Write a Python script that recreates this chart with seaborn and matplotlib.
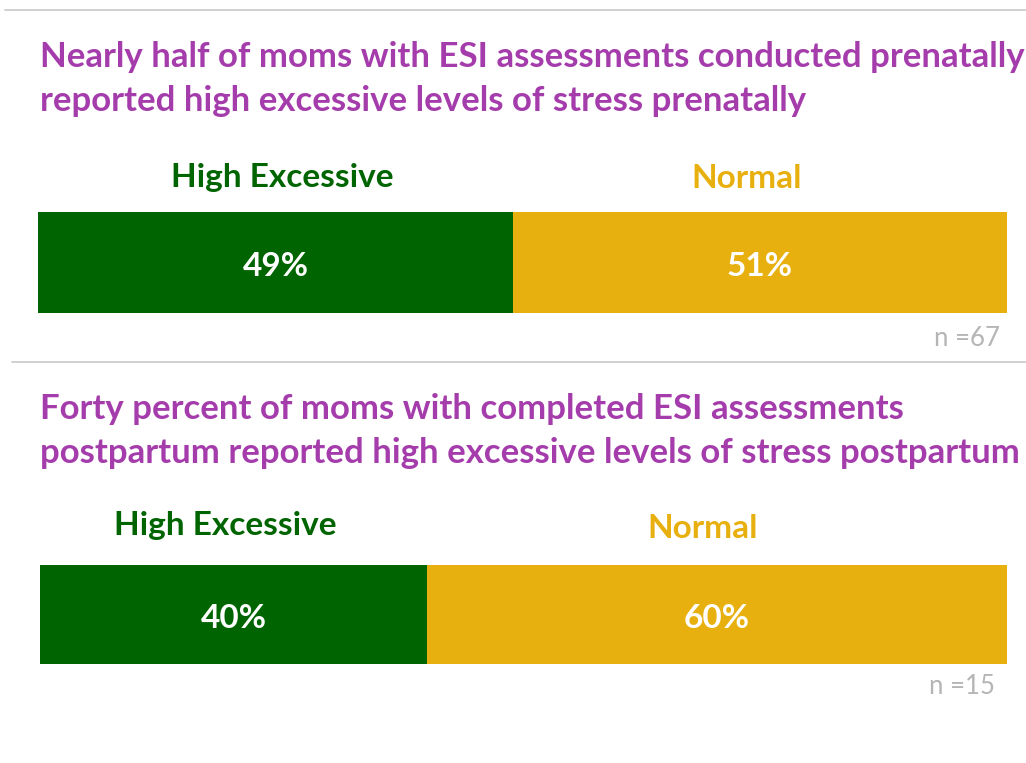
import matplotlib
matplotlib.use("Agg")
import matplotlib.pyplot as plt
import seaborn as sns
import pandas as pd

# ---- data ----
categories = ["High Excessive", "Normal"]
prenatal_values = [49, 51]
postpartum_values = [40, 60]
prenatal_n = 67
postpartum_n = 15
prenatal_title = [
    "Nearly half of moms with ESI assessments conducted prenatally",
    "reported high excessive levels of stress prenatally",
]
postpartum_title = [
    "Forty percent of moms with completed ESI assessments",
    "postpartum reported high excessive levels of stress postpartum",
]

GREEN = "#006400"
GOLD = "#E8B00E"
PURPLE = "#A53CAB"
GRAY = "#B5B5B5"

sns.set_theme(style="white")
plt.rcParams["font.family"] = ["Lato", "DejaVu Sans"]

W, H = 1026, 763
fig = plt.figure(figsize=(W / 100, H / 100), dpi=100)

def px_axes(x0, y0, x1, y1):
    return fig.add_axes([x0 / W, 1 - y1 / H, (x1 - x0) / W, (y1 - y0) / H])

def fx(x):
    return x / W

def fy(y):
    return 1 - y / H

def draw_panel(values, n, title_lines, bar_box, title_ys, cat_pos, n_pos):
    ax = px_axes(*bar_box)
    total = sum(values)
    df_full = pd.DataFrame({"row": ["a"], "v": [total]})
    df_first = pd.DataFrame({"row": ["a"], "v": [values[0]]})
    sns.barplot(data=df_full, x="v", y="row", orient="h", color=GOLD,
                width=1.0, saturation=1, ax=ax, linewidth=0)
    sns.barplot(data=df_first, x="v", y="row", orient="h", color=GREEN,
                width=1.0, saturation=1, ax=ax, linewidth=0)
    ax.set_xlim(0, total)
    ax.set_ylim(0.5, -0.5)
    ax.axis("off")
    # percent labels
    start = 0
    for v in values:
        ax.text(start + v / 2, 0.04, f"{v}%", ha="center", va="center",
                color="white", fontsize=24, fontweight="bold")
        start += v
    # title
    for line, ty in zip(title_lines, title_ys):
        fig.text(fx(40), fy(ty), line, ha="left", va="center", color=PURPLE,
                 fontsize=25, fontweight="bold")
    # category labels
    for (cx, cy), cat, col in zip(cat_pos, categories, [GREEN, GOLD]):
        fig.text(fx(cx), fy(cy), cat, ha="center", va="center", color=col,
                 fontsize=24, fontweight="bold")
    fig.text(fx(n_pos[0]), fy(n_pos[1]), f"n ={n}", ha="right", va="center",
             color=GRAY, fontsize=18.5)

draw_panel(prenatal_values, prenatal_n, prenatal_title, (38, 212, 1007, 313),
           (57, 101), [(282, 178), (747, 178)], (1000, 338))
draw_panel(postpartum_values, postpartum_n, postpartum_title, (40, 565, 1007, 664),
           (409, 453), [(225, 525), (703, 529)], (995, 687))

# separator lines
fig.add_artist(plt.Line2D([fx(5), 1], [fy(10), fy(10)], color="#C8C8C8", lw=1.2))
fig.add_artist(plt.Line2D([fx(12), 1], [fy(362), fy(362)], color="#C8C8C8", lw=1.2))

fig.savefig("out.png", dpi=100)
